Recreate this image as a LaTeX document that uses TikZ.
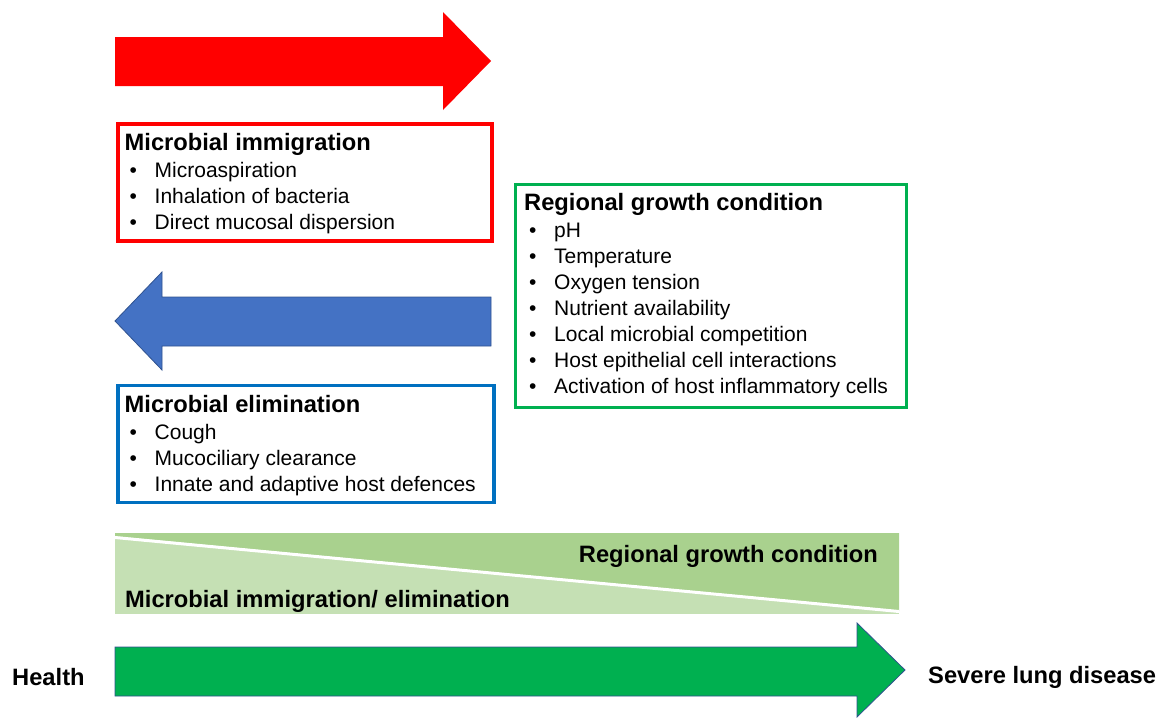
\documentclass[tikz,border=0pt]{standalone}
\usepackage{fontspec}
\setmainfont{Liberation Sans}
\usetikzlibrary{positioning, calc}
\definecolor{immigred}{RGB}{255, 0, 0}
\definecolor{elimblue}{RGB}{68, 114, 196}
\definecolor{elimedge}{RGB}{47, 82, 143}
\definecolor{elimframe}{RGB}{0, 112, 192}
\definecolor{growthgreen}{RGB}{0, 176, 80}
\definecolor{banddark}{RGB}{169, 209, 142}
\definecolor{bandlight}{RGB}{197, 224, 180}

\newcommand{\ttl}[1]{{\bfseries\fontsize{23.7}{26}\selectfont #1}}
\newcommand{\itm}[1]{\hspace*{5pt}\makebox[25pt][l]{\textbullet}#1}

\begin{document}
\begin{tikzpicture}[
    x=1pt, y=-1pt,
    listframe/.style={draw, line width=3.5pt, anchor=north west, inner sep=0pt},
    listtext/.style={inner sep=0pt, align=left, font=\fontsize{21}{26}\selectfont},
    bandtext/.style={inner sep=0pt, font=\bfseries\fontsize{23.7}{26}\selectfont},
    bigarrow/.style={line width=0.8pt, draw=elimedge}
]
    \useasboundingbox (0,0) rectangle (1163,718);

    % Arrows - immigration and elimination
    \fill[immigred] (115,37) -- (443,37) -- (443,12) -- (491,61) -- (443,110) -- (443,86) -- (115,86) -- cycle;
    \fill[bigarrow, fill=elimblue] (491,297) -- (162,297) -- (162,272) -- (115,321) -- (162,370) -- (162,346) -- (491,346) -- cycle;

    % Boxes
    \node[listframe, draw=immigred, minimum width=374, minimum height=117] (immig) at (116,122) {};
    \node[listframe, draw=elimframe, minimum width=376, minimum height=117] (elim) at (116,383.5) {};
    \node[listframe, draw=growthgreen, minimum width=391, minimum height=223] (growth) at (513.5,182.5) {};

    % Box texts
    \node[listtext, below right=11.5pt and 8.5pt of immig.north west] (immigtext) {%
        \ttl{Microbial immigration}\\[1pt]
        \itm{Microaspiration}\\
        \itm{Inhalation of bacteria}\\
        \itm{Direct mucosal dispersion}};
    \node[listtext, below right=11.5pt and 8.5pt of elim.north west] (elimtext) {%
        \ttl{Microbial elimination}\\[1pt]
        \itm{Cough}\\
        \itm{Mucociliary clearance}\\
        \itm{Innate and adaptive host defences}};
    \node[listtext, below right=10.5pt and 10.5pt of growth.north west] (growthtext) {%
        \ttl{Regional growth condition}\\[1pt]
        \itm{pH}\\
        \itm{Temperature}\\
        \itm{Oxygen tension}\\
        \itm{Nutrient availability}\\
        \itm{Local microbial competition}\\
        \itm{Host epithelial cell interactions}\\
        \itm{Activation of host inflammatory cells}};

    % Balance band
    \fill[bandlight] (115,533) rectangle (899,614);
    \fill[banddark] (115,533) -- (899,533) -- (899,611) -- (115,536) -- cycle;
    \draw[white, line width=3pt] (115,537.5) -- (899,611.5);
    \node[bandtext, anchor=base east] (bandgrowth) at (878,562) {Regional growth condition};
    \node[bandtext, anchor=base west] (bandimmig) at (125,607) {Microbial immigration/ elimination};

    % Disease course
    \fill[bigarrow, fill=growthgreen] (115,647) -- (857,647) -- (857,623) -- (905,670) -- (857,717) -- (857,696) -- (115,696) -- cycle;
    \node[bandtext, anchor=base west] (health) at (12,685) {Health};
    \node[bandtext, anchor=base west] (severe) at (928,683) {Severe lung disease};
\end{tikzpicture}
\end{document}
